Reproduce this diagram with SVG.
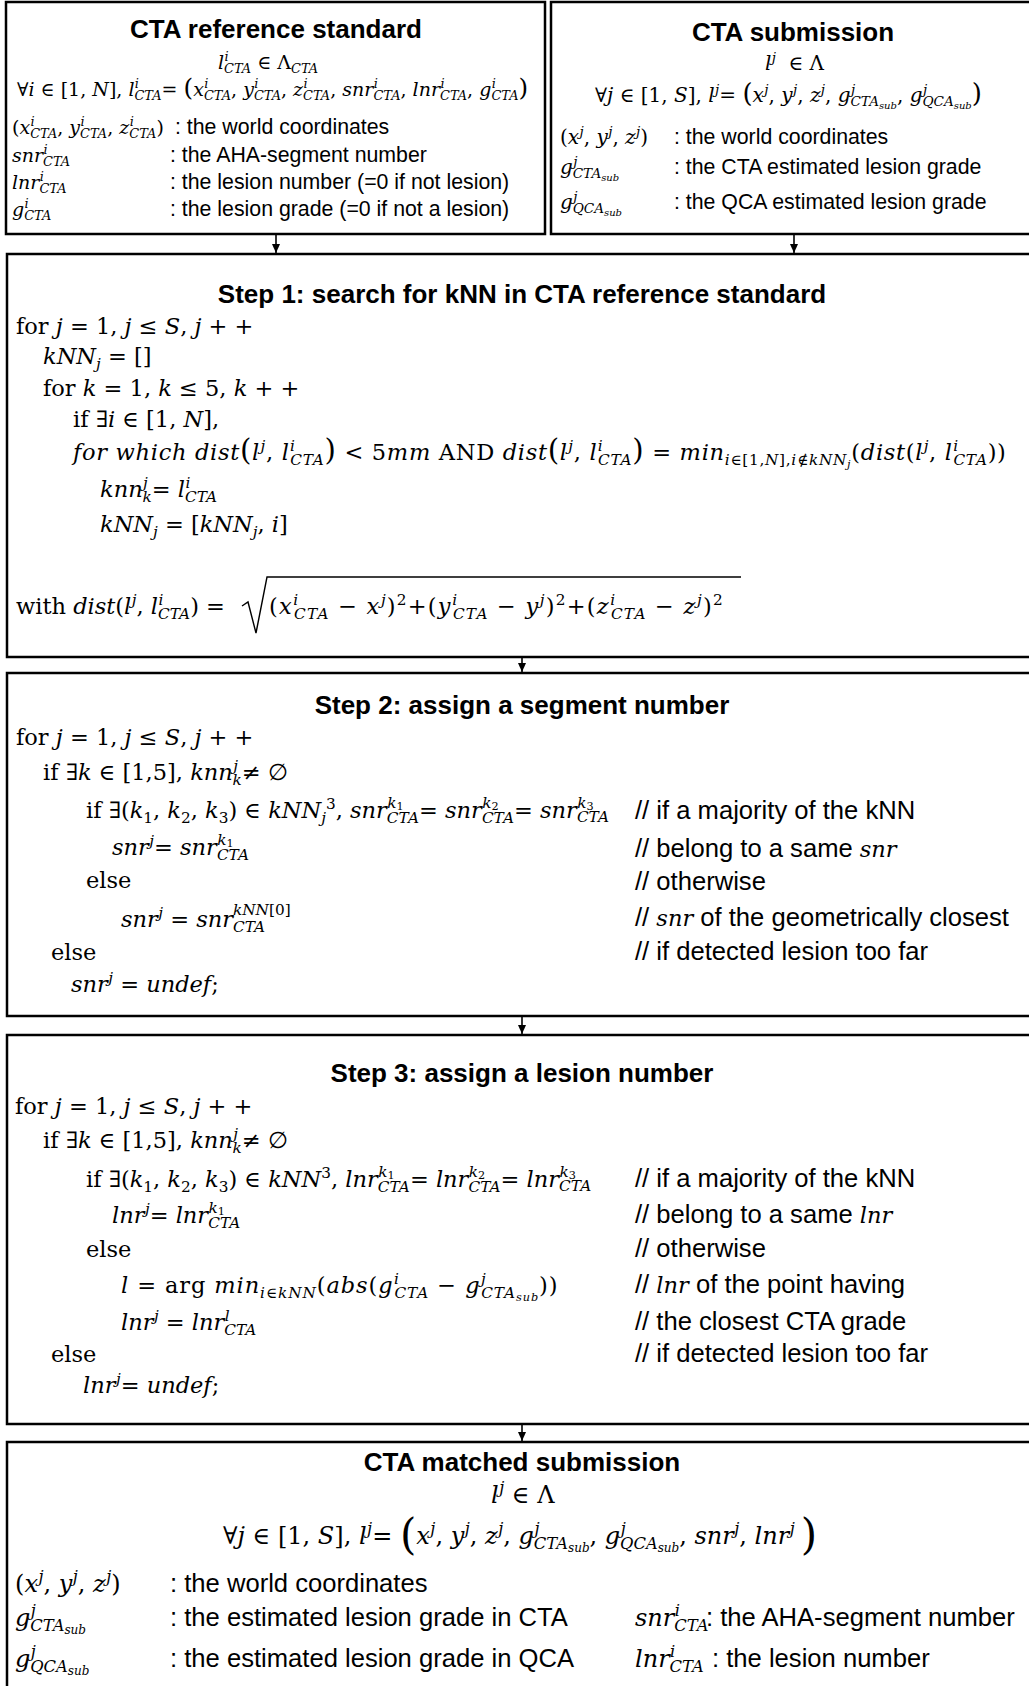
<svg xmlns="http://www.w3.org/2000/svg" width="1029" height="1686" viewBox="0 0 1029 1686">
<style>
text{fill:#000}
.h{font-family:"Liberation Sans",Arial,sans-serif;font-weight:bold;font-size:26px;text-anchor:middle}
.t{font-family:"Liberation Sans",Arial,sans-serif;font-size:21.3px}
.T{font-family:"Liberation Sans",Arial,sans-serif;font-size:25.6px}
.m1{font-family:"DejaVu Serif",serif;font-size:19px}
.m2{font-family:"DejaVu Serif",serif;font-size:20px}
.M{font-family:"DejaVu Serif",serif;font-size:22.5px}
.F{font-family:"DejaVu Serif",serif;font-size:24px}
.i{font-style:italic}
.mi{font-family:"DejaVu Serif",serif;font-style:italic;font-size:.88em}
.s{font-size:.68em}
.ss{font-size:.5em}
.b{font-size:1.3em}
.bb{font-size:1.75em}
.box{fill:#fff;stroke:#000;stroke-width:2.5}
.c{stroke:#000;stroke-width:1.6;fill:none}
.rad{stroke:#000;stroke-width:1.4;fill:none}
</style>
<defs>
<marker id="ah" markerWidth="9" markerHeight="8" refX="9" refY="4" orient="auto" markerUnits="userSpaceOnUse"><path d="M0,0 L9,4 L0,8 z" fill="#000"/></marker>
</defs>

<g id="cta-reference-standard">
<rect class="box" x="6" y="2" width="539" height="232"/>
<text class="h" x="276" y="38">CTA reference standard</text>
<text class="m1" x="218" y="69"><tspan class="i">l</tspan><tspan class="s i" dx="0.03em" dy="-0.6em">i</tspan><tspan class="s i" dx="-0.35em" dy="0.9em">CTA</tspan><tspan dy="-0.204em"> ∈ Λ</tspan><tspan class="s i" dy="0.3em">CTA</tspan></text>
<text class="m1" x="17" y="96">∀<tspan class="i">i</tspan> ∈ [1, <tspan class="i">N</tspan>], <tspan class="i">l</tspan><tspan class="s i" dx="0.03em" dy="-0.6em">i</tspan><tspan class="s i" dx="-0.35em" dy="0.9em">CTA</tspan><tspan dy="-0.204em">= </tspan><tspan class="b">(</tspan><tspan class="i">x</tspan><tspan class="s i" dx="0.03em" dy="-0.6em">i</tspan><tspan class="s i" dx="-0.35em" dy="0.9em">CTA</tspan><tspan dy="-0.204em">, </tspan><tspan class="i">y</tspan><tspan class="s i" dx="0.03em" dy="-0.6em">i</tspan><tspan class="s i" dx="-0.35em" dy="0.9em">CTA</tspan><tspan dy="-0.204em">, </tspan><tspan class="i">z</tspan><tspan class="s i" dx="0.03em" dy="-0.6em">i</tspan><tspan class="s i" dx="-0.35em" dy="0.9em">CTA</tspan><tspan dy="-0.204em">, </tspan><tspan class="i">snr</tspan><tspan class="s i" dx="0.03em" dy="-0.6em">i</tspan><tspan class="s i" dx="-0.35em" dy="0.9em">CTA</tspan><tspan dy="-0.204em">, </tspan><tspan class="i">lnr</tspan><tspan class="s i" dx="0.03em" dy="-0.6em">i</tspan><tspan class="s i" dx="-0.35em" dy="0.9em">CTA</tspan><tspan dy="-0.204em">, </tspan><tspan class="i">g</tspan><tspan class="s i" dx="0.03em" dy="-0.6em">i</tspan><tspan class="s i" dx="-0.35em" dy="0.9em">CTA</tspan><tspan class="b" dy="-0.157em">)</tspan></text>
<text class="m1" x="12" y="134">(<tspan class="i">x</tspan><tspan class="s i" dx="0.03em" dy="-0.6em">i</tspan><tspan class="s i" dx="-0.35em" dy="0.9em">CTA</tspan><tspan dy="-0.204em">, </tspan><tspan class="i">y</tspan><tspan class="s i" dx="0.03em" dy="-0.6em">i</tspan><tspan class="s i" dx="-0.35em" dy="0.9em">CTA</tspan><tspan dy="-0.204em">, </tspan><tspan class="i">z</tspan><tspan class="s i" dx="0.03em" dy="-0.6em">i</tspan><tspan class="s i" dx="-0.35em" dy="0.9em">CTA</tspan><tspan dy="-0.204em">)</tspan></text>
<text class="t" x="175" y="134">: the world coordinates</text>
<text class="m1" x="12" y="162"><tspan class="i">snr</tspan><tspan class="s i" dx="0.03em" dy="-0.6em">i</tspan><tspan class="s i" dx="-0.35em" dy="0.9em">CTA</tspan></text>
<text class="t" x="170" y="162">: the AHA-segment number</text>
<text class="m1" x="12" y="189"><tspan class="i">lnr</tspan><tspan class="s i" dx="0.03em" dy="-0.6em">i</tspan><tspan class="s i" dx="-0.35em" dy="0.9em">CTA</tspan></text>
<text class="t" x="170" y="189">: the lesion number (=0 if not lesion)</text>
<text class="m1" x="12" y="216"><tspan class="i">g</tspan><tspan class="s i" dx="0.03em" dy="-0.6em">i</tspan><tspan class="s i" dx="-0.35em" dy="0.9em">CTA</tspan></text>
<text class="t" x="170" y="216">: the lesion grade (=0 if not a lesion)</text>
</g>

<g id="cta-submission">
<rect class="box" x="551" y="2" width="490" height="232"/>
<text class="h" x="793" y="41">CTA submission</text>
<text class="m2" x="765" y="70"><tspan class="i">l</tspan><tspan class="s i" dx="0.03em" dy="-0.6em">j</tspan><tspan dx="6" dy="0.408em"> ∈ Λ</tspan></text>
<text class="m2" x="595" y="102">∀<tspan class="i">j</tspan> ∈ [1, <tspan class="i">S</tspan>], <tspan class="i">l</tspan><tspan class="s i" dx="0.03em" dy="-0.6em">j</tspan><tspan dy="0.408em">= </tspan><tspan class="b">(</tspan><tspan class="i">x</tspan><tspan class="s i" dx="0.03em" dy="-0.6em">j</tspan><tspan dy="0.408em">, </tspan><tspan class="i">y</tspan><tspan class="s i" dx="0.03em" dy="-0.6em">j</tspan><tspan dy="0.408em">, </tspan><tspan class="i">z</tspan><tspan class="s i" dx="0.03em" dy="-0.6em">j</tspan><tspan dy="0.408em">, </tspan><tspan class="i">g</tspan><tspan class="s i" dx="0.03em" dy="-0.6em">j</tspan><tspan class="s i" dx="-0.35em" dy="0.9em">CTA</tspan><tspan class="ss i" dy="0.3em">sub</tspan><tspan dy="-0.354em">, </tspan><tspan class="i">g</tspan><tspan class="s i" dx="0.03em" dy="-0.6em">j</tspan><tspan class="s i" dx="-0.35em" dy="0.9em">QCA</tspan><tspan class="ss i" dy="0.3em">sub</tspan><tspan class="b" dy="-0.272em">)</tspan></text>
<text class="m2" x="560" y="144">(<tspan class="i">x</tspan><tspan class="s i" dx="0.03em" dy="-0.6em">j</tspan><tspan dy="0.408em">, </tspan><tspan class="i">y</tspan><tspan class="s i" dx="0.03em" dy="-0.6em">j</tspan><tspan dy="0.408em">, </tspan><tspan class="i">z</tspan><tspan class="s i" dx="0.03em" dy="-0.6em">j</tspan><tspan dy="0.408em">)</tspan></text>
<text class="t" x="674" y="144">: the world coordinates</text>
<text class="m2" x="560" y="174"><tspan class="i">g</tspan><tspan class="s i" dx="0.03em" dy="-0.6em">j</tspan><tspan class="s i" dx="-0.35em" dy="0.9em">CTA</tspan><tspan class="ss i" dy="0.3em">sub</tspan></text>
<text class="t" x="674" y="174">: the CTA estimated lesion grade</text>
<text class="m2" x="560" y="209"><tspan class="i">g</tspan><tspan class="s i" dx="0.03em" dy="-0.6em">j</tspan><tspan class="s i" dx="-0.35em" dy="0.9em">QCA</tspan><tspan class="ss i" dy="0.3em">sub</tspan></text>
<text class="t" x="674" y="209">: the QCA estimated lesion grade</text>
</g>

<g id="step1">
<rect class="box" x="7" y="254" width="1030" height="403"/>
<text class="h" x="522" y="303">Step 1: search for kNN in CTA reference standard</text>
<text class="M" x="16" y="334">for <tspan class="i">j</tspan> = 1, <tspan class="i">j</tspan> ≤ <tspan class="i">S</tspan>, <tspan class="i">j</tspan> + +</text>
<text class="M" x="43" y="364"><tspan class="i">kNN</tspan><tspan class="s i" dy="0.3em">j</tspan><tspan dy="-0.204em"> = []</tspan></text>
<text class="M" x="43" y="396">for <tspan class="i">k</tspan> = 1, <tspan class="i">k</tspan> ≤ 5, <tspan class="i">k</tspan> + +</text>
<text class="M" x="73" y="427">if ∃<tspan class="i">i</tspan> ∈ [1, <tspan class="i">N</tspan>],</text>
<text class="M" x="73" y="460" style="letter-spacing:0.7px"><tspan class="i">for which dist</tspan><tspan class="b">(</tspan><tspan class="i">l</tspan><tspan class="s i" dx="0.03em" dy="-0.6em">j</tspan><tspan dy="0.408em">, </tspan><tspan class="i">l</tspan><tspan class="s i" dx="0.03em" dy="-0.6em">i</tspan><tspan class="s i" dx="-0.35em" dy="0.9em">CTA</tspan><tspan class="b" dy="-0.157em">)</tspan> &lt; 5<tspan class="i">mm</tspan> AND <tspan class="i">dist</tspan><tspan class="b">(</tspan><tspan class="i">l</tspan><tspan class="s i" dx="0.03em" dy="-0.6em">j</tspan><tspan dy="0.408em">, </tspan><tspan class="i">l</tspan><tspan class="s i" dx="0.03em" dy="-0.6em">i</tspan><tspan class="s i" dx="-0.35em" dy="0.9em">CTA</tspan><tspan class="b" dy="-0.157em">)</tspan> = <tspan class="i">min</tspan><tspan class="s i" dy="0.3em">i</tspan><tspan class="s">∈[1,</tspan><tspan class="s i">N</tspan><tspan class="s">],</tspan><tspan class="s i">i</tspan><tspan class="s">∉</tspan><tspan class="s i">kNN</tspan><tspan class="ss i" dy="0.3em">j</tspan><tspan dy="-0.354em">(</tspan><tspan class="i">dist</tspan>(<tspan class="i">l</tspan><tspan class="s i" dx="0.03em" dy="-0.6em">j</tspan><tspan dy="0.408em">, </tspan><tspan class="i">l</tspan><tspan class="s i" dx="0.03em" dy="-0.6em">i</tspan><tspan class="s i" dx="-0.35em" dy="0.9em">CTA</tspan><tspan dy="-0.204em">))</tspan></text>
<text class="M" x="100" y="497"><tspan class="i">knn</tspan><tspan class="s i" dx="0.03em" dy="-0.6em">j</tspan><tspan class="s i" dx="-0.35em" dy="0.9em">k</tspan><tspan dy="-0.204em">= </tspan><tspan class="i">l</tspan><tspan class="s i" dx="0.03em" dy="-0.6em">i</tspan><tspan class="s i" dx="-0.35em" dy="0.9em">CTA</tspan></text>
<text class="M" x="100" y="532"><tspan class="i">kNN</tspan><tspan class="s i" dy="0.3em">j</tspan><tspan dy="-0.204em"> = [</tspan><tspan class="i">kNN</tspan><tspan class="s i" dy="0.3em">j</tspan><tspan dy="-0.204em">, </tspan><tspan class="i">i</tspan>]</text>
<text class="M" x="16" y="614">with <tspan class="i">dist</tspan>(<tspan class="i">l</tspan><tspan class="s i" dx="0.03em" dy="-0.6em">j</tspan><tspan dy="0.408em">, </tspan><tspan class="i">l</tspan><tspan class="s i" dx="0.03em" dy="-0.6em">i</tspan><tspan class="s i" dx="-0.35em" dy="0.9em">CTA</tspan><tspan dy="-0.204em">) =</tspan></text>
<polyline class="rad" points="242,606 248,602 256,633 267,577 741,577"/>
<text class="M" x="269" y="614" style="letter-spacing:1.2px">(<tspan class="i">x</tspan><tspan class="s i" dx="0.03em" dy="-0.6em">i</tspan><tspan class="s i" dx="-0.35em" dy="0.9em">CTA</tspan><tspan dy="-0.204em"> − </tspan><tspan class="i">x</tspan><tspan class="s i" dx="0.03em" dy="-0.6em">j</tspan><tspan dy="0.408em">)</tspan><tspan class="s" dy="-0.6em">2</tspan><tspan dy="0.408em">+(</tspan><tspan class="i">y</tspan><tspan class="s i" dx="0.03em" dy="-0.6em">i</tspan><tspan class="s i" dx="-0.35em" dy="0.9em">CTA</tspan><tspan dy="-0.204em"> − </tspan><tspan class="i">y</tspan><tspan class="s i" dx="0.03em" dy="-0.6em">j</tspan><tspan dy="0.408em">)</tspan><tspan class="s" dy="-0.6em">2</tspan><tspan dy="0.408em">+(</tspan><tspan class="i">z</tspan><tspan class="s i" dx="0.03em" dy="-0.6em">i</tspan><tspan class="s i" dx="-0.35em" dy="0.9em">CTA</tspan><tspan dy="-0.204em"> − </tspan><tspan class="i">z</tspan><tspan class="s i" dx="0.03em" dy="-0.6em">j</tspan><tspan dy="0.408em">)</tspan><tspan class="s" dy="-0.6em">2</tspan></text>
</g>

<g id="step2">
<rect class="box" x="7" y="673" width="1030" height="343"/>
<text class="h" x="522" y="714">Step 2: assign a segment number</text>
<text class="M" x="16" y="745">for <tspan class="i">j</tspan> = 1, <tspan class="i">j</tspan> ≤ <tspan class="i">S</tspan>, <tspan class="i">j</tspan> + +</text>
<text class="M" x="43" y="780">if ∃<tspan class="i">k</tspan> ∈ [1,5], <tspan class="i">knn</tspan><tspan class="s i" dx="0.03em" dy="-0.6em">j</tspan><tspan class="s i" dx="-0.35em" dy="0.9em">k</tspan><tspan dy="-0.204em">≠ ∅</tspan></text>
<text class="M" x="86" y="818">if ∃(<tspan class="i">k</tspan><tspan class="s" dy="0.3em">1</tspan><tspan dy="-0.204em">, </tspan><tspan class="i">k</tspan><tspan class="s" dy="0.3em">2</tspan><tspan dy="-0.204em">, </tspan><tspan class="i">k</tspan><tspan class="s" dy="0.3em">3</tspan><tspan dy="-0.204em">) ∈ </tspan><tspan class="i">kNN</tspan><tspan class="s i" dy="0.3em">j</tspan><tspan class="s" dy="-0.9em">3</tspan><tspan dy="0.408em">, </tspan><tspan class="i">snr</tspan><tspan class="s i" dx="0.03em" dy="-0.65em">k</tspan><tspan class="ss" dy="0.2em">1</tspan><tspan class="s i" dx="-1.1em" dy="0.8em">CTA</tspan><tspan dy="-0.204em">= </tspan><tspan class="i">snr</tspan><tspan class="s i" dx="0.03em" dy="-0.65em">k</tspan><tspan class="ss" dy="0.2em">2</tspan><tspan class="s i" dx="-1.1em" dy="0.8em">CTA</tspan><tspan dy="-0.204em">= </tspan><tspan class="i">snr</tspan><tspan class="s i" dx="0.03em" dy="-0.65em">k</tspan><tspan class="ss" dy="0.2em">3</tspan><tspan class="s i" dx="-1.1em" dy="0.8em">CTA</tspan></text>
<text class="M" x="112" y="855"><tspan class="i">snr</tspan><tspan class="s i" dx="0.03em" dy="-0.6em">j</tspan><tspan dy="0.408em">= </tspan><tspan class="i">snr</tspan><tspan class="s i" dx="0.03em" dy="-0.65em">k</tspan><tspan class="ss" dy="0.2em">1</tspan><tspan class="s i" dx="-1.1em" dy="0.8em">CTA</tspan></text>
<text class="M" x="86" y="888">else</text>
<text class="M" x="121" y="927"><tspan class="i">snr</tspan><tspan class="s i" dx="0.03em" dy="-0.6em">j</tspan><tspan dy="0.408em"> = </tspan><tspan class="i">snr</tspan><tspan class="s i" dy="0.3em">CTA</tspan><tspan class="s i" dx="-2.1em" dy="-1.1em">kNN</tspan><tspan class="s">[0]</tspan></text>
<text class="M" x="51" y="960">else</text>
<text class="M" x="71" y="992"><tspan class="i">snr</tspan><tspan class="s i" dx="0.03em" dy="-0.6em">j</tspan><tspan dy="0.408em"> = </tspan><tspan class="i">undef</tspan>;</text>
<text class="T" x="635" y="819">// if a majority of the kNN</text>
<text class="T" x="635" y="857">// belong to a same <tspan class="mi">snr</tspan></text>
<text class="T" x="635" y="890">// otherwise</text>
<text class="T" x="635" y="926">// <tspan class="mi">snr</tspan> of the geometrically closest</text>
<text class="T" x="635" y="960">// if detected lesion too far</text>
</g>

<g id="step3">
<rect class="box" x="7" y="1035" width="1030" height="389"/>
<text class="h" x="522" y="1082">Step 3: assign a lesion number</text>
<text class="M" x="15" y="1114">for <tspan class="i">j</tspan> = 1, <tspan class="i">j</tspan> ≤ <tspan class="i">S</tspan>, <tspan class="i">j</tspan> + +</text>
<text class="M" x="43" y="1148">if ∃<tspan class="i">k</tspan> ∈ [1,5], <tspan class="i">knn</tspan><tspan class="s i" dx="0.03em" dy="-0.6em">j</tspan><tspan class="s i" dx="-0.35em" dy="0.9em">k</tspan><tspan dy="-0.204em">≠ ∅</tspan></text>
<text class="M" x="86" y="1187">if ∃(<tspan class="i">k</tspan><tspan class="s" dy="0.3em">1</tspan><tspan dy="-0.204em">, </tspan><tspan class="i">k</tspan><tspan class="s" dy="0.3em">2</tspan><tspan dy="-0.204em">, </tspan><tspan class="i">k</tspan><tspan class="s" dy="0.3em">3</tspan><tspan dy="-0.204em">) ∈ </tspan><tspan class="i">kNN</tspan><tspan class="s" dy="-0.6em">3</tspan><tspan dy="0.408em">, </tspan><tspan class="i">lnr</tspan><tspan class="s i" dx="0.03em" dy="-0.65em">k</tspan><tspan class="ss" dy="0.2em">1</tspan><tspan class="s i" dx="-1.1em" dy="0.8em">CTA</tspan><tspan dy="-0.204em">= </tspan><tspan class="i">lnr</tspan><tspan class="s i" dx="0.03em" dy="-0.65em">k</tspan><tspan class="ss" dy="0.2em">2</tspan><tspan class="s i" dx="-1.1em" dy="0.8em">CTA</tspan><tspan dy="-0.204em">= </tspan><tspan class="i">lnr</tspan><tspan class="s i" dx="0.03em" dy="-0.65em">k</tspan><tspan class="ss" dy="0.2em">3</tspan><tspan class="s i" dx="-1.1em" dy="0.8em">CTA</tspan></text>
<text class="M" x="112" y="1223"><tspan class="i">lnr</tspan><tspan class="s i" dx="0.03em" dy="-0.6em">j</tspan><tspan dy="0.408em">= </tspan><tspan class="i">lnr</tspan><tspan class="s i" dx="0.03em" dy="-0.65em">k</tspan><tspan class="ss" dy="0.2em">1</tspan><tspan class="s i" dx="-1.1em" dy="0.8em">CTA</tspan></text>
<text class="M" x="86" y="1257">else</text>
<text class="M" x="121" y="1293" style="letter-spacing:0.9px"><tspan class="i">l</tspan> = arg <tspan class="i">min</tspan><tspan class="s i" dy="0.3em">i</tspan><tspan class="s">∈</tspan><tspan class="s i">kNN</tspan><tspan dy="-0.204em">(</tspan><tspan class="i">abs</tspan>(<tspan class="i">g</tspan><tspan class="s i" dx="0.03em" dy="-0.6em">i</tspan><tspan class="s i" dx="-0.35em" dy="0.9em">CTA</tspan><tspan dy="-0.204em"> − </tspan><tspan class="i">g</tspan><tspan class="s i" dx="0.03em" dy="-0.6em">j</tspan><tspan class="s i" dx="-0.35em" dy="0.9em">CTA</tspan><tspan class="ss i" dy="0.3em">sub</tspan><tspan dy="-0.354em">))</tspan></text>
<text class="M" x="121" y="1330"><tspan class="i">lnr</tspan><tspan class="s i" dx="0.03em" dy="-0.6em">j</tspan><tspan dy="0.408em"> = </tspan><tspan class="i">lnr</tspan><tspan class="s i" dx="0.03em" dy="-0.6em">l</tspan><tspan class="s i" dx="-0.35em" dy="0.9em">CTA</tspan></text>
<text class="M" x="51" y="1362">else</text>
<text class="M" x="83" y="1393"><tspan class="i">lnr</tspan><tspan class="s i" dx="0.03em" dy="-0.6em">j</tspan><tspan dy="0.408em">= </tspan><tspan class="i">undef</tspan>;</text>
<text class="T" x="635" y="1187">// if a majority of the kNN</text>
<text class="T" x="635" y="1223">// belong to a same <tspan class="mi">lnr</tspan></text>
<text class="T" x="635" y="1257">// otherwise</text>
<text class="T" x="635" y="1293">// <tspan class="mi">lnr</tspan> of the point having</text>
<text class="T" x="635" y="1330">// the closest CTA grade</text>
<text class="T" x="635" y="1362">// if detected lesion too far</text>
</g>

<g id="cta-matched-submission">
<rect class="box" x="7" y="1442" width="1030" height="260"/>
<text class="h" x="522" y="1471">CTA matched submission</text>
<text class="F" x="491" y="1503"><tspan class="i">l</tspan><tspan class="s i" dx="0.03em" dy="-0.6em">j</tspan><tspan dy="0.408em"> ∈ Λ</tspan></text>
<text class="F" x="223" y="1544">∀<tspan class="i">j</tspan> ∈ [1, <tspan class="i">S</tspan>], <tspan class="i">l</tspan><tspan class="s i" dx="0.03em" dy="-0.6em">j</tspan><tspan dy="0.408em">= </tspan><tspan class="bb" dy="0.12em">(</tspan><tspan class="i" dy="-0.21em">x</tspan><tspan class="s i" dx="0.03em" dy="-0.6em">j</tspan><tspan dy="0.408em">, </tspan><tspan class="i">y</tspan><tspan class="s i" dx="0.03em" dy="-0.6em">j</tspan><tspan dy="0.408em">, </tspan><tspan class="i">z</tspan><tspan class="s i" dx="0.03em" dy="-0.6em">j</tspan><tspan dy="0.408em">, </tspan><tspan class="i">g</tspan><tspan class="s i" dx="0.03em" dy="-0.6em">j</tspan><tspan class="s i" dx="-0.35em" dy="0.9em">CTA</tspan><tspan class="ss i" dy="0.3em">sub</tspan><tspan dy="-0.354em">, </tspan><tspan class="i">g</tspan><tspan class="s i" dx="0.03em" dy="-0.6em">j</tspan><tspan class="s i" dx="-0.35em" dy="0.9em">QCA</tspan><tspan class="ss i" dy="0.3em">sub</tspan><tspan dy="-0.354em">, </tspan><tspan class="i">snr</tspan><tspan class="s i" dx="0.03em" dy="-0.6em">j</tspan><tspan dy="0.408em">, </tspan><tspan class="i">lnr</tspan><tspan class="s i" dx="0.03em" dy="-0.6em">j</tspan><tspan class="bb" dx="6" dy="0.353em">)</tspan></text>
<text class="F" x="15" y="1592">(<tspan class="i">x</tspan><tspan class="s i" dx="0.03em" dy="-0.6em">j</tspan><tspan dy="0.408em">, </tspan><tspan class="i">y</tspan><tspan class="s i" dx="0.03em" dy="-0.6em">j</tspan><tspan dy="0.408em">, </tspan><tspan class="i">z</tspan><tspan class="s i" dx="0.03em" dy="-0.6em">j</tspan><tspan dy="0.408em">)</tspan></text>
<text class="T" x="170" y="1592">: the world coordinates</text>
<text class="F" x="15" y="1626"><tspan class="i">g</tspan><tspan class="s i" dx="0.03em" dy="-0.6em">j</tspan><tspan class="s i" dx="-0.35em" dy="0.9em">CTA</tspan><tspan class="ss i" dy="0.3em">sub</tspan></text>
<text class="T" x="170" y="1626">: the estimated lesion grade in CTA</text>
<text class="F" x="15" y="1667"><tspan class="i">g</tspan><tspan class="s i" dx="0.03em" dy="-0.6em">j</tspan><tspan class="s i" dx="-0.35em" dy="0.9em">QCA</tspan><tspan class="ss i" dy="0.3em">sub</tspan></text>
<text class="T" x="170" y="1667">: the estimated lesion grade in QCA</text>
<text class="F" x="635" y="1626"><tspan class="i">snr</tspan><tspan class="s i" dx="0.03em" dy="-0.6em">i</tspan><tspan class="s i" dx="-0.35em" dy="0.9em">CTA</tspan></text>
<text class="T" x="706" y="1626">: the AHA-segment number</text>
<text class="F" x="635" y="1667"><tspan class="i">lnr</tspan><tspan class="s i" dx="0.03em" dy="-0.6em">i</tspan><tspan class="s i" dx="-0.35em" dy="0.9em">CTA</tspan></text>
<text class="T" x="712" y="1667">: the lesion number</text>
</g>

<g id="connectors">
<line class="c" x1="276" y1="235" x2="276" y2="253" marker-end="url(#ah)"/>
<line class="c" x1="794" y1="235" x2="794" y2="253" marker-end="url(#ah)"/>
<line class="c" x1="522" y1="658" x2="522" y2="672" marker-end="url(#ah)"/>
<line class="c" x1="522" y1="1017" x2="522" y2="1034" marker-end="url(#ah)"/>
<line class="c" x1="522" y1="1425" x2="522" y2="1441" marker-end="url(#ah)"/>
</g>
</svg>
